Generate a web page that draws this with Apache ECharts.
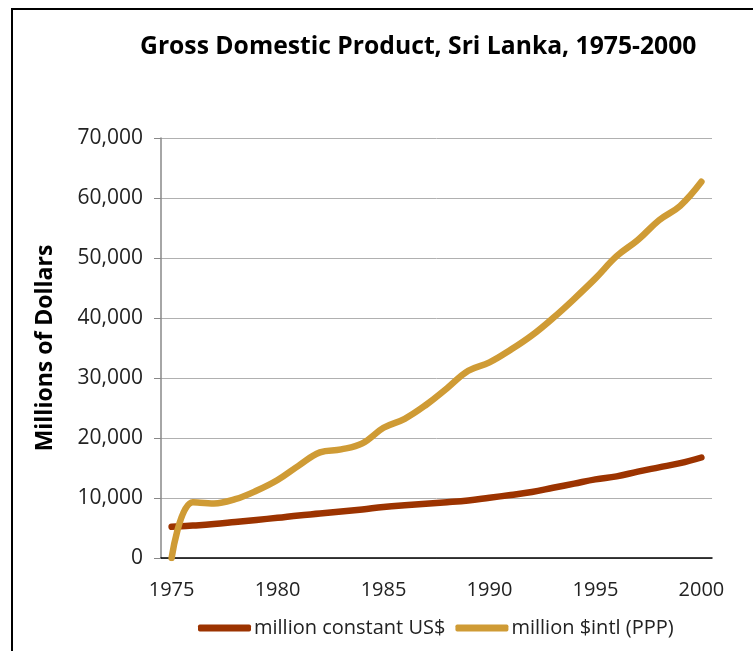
<!DOCTYPE html>
<html>
<head>
<meta charset="utf-8">
<script src="https://cdn.jsdelivr.net/npm/echarts@6/dist/echarts.min.js"></script>
<style>html,body{margin:0;padding:0;background:#fff;}#c{width:753px;height:651px;}</style>
</head>
<body>
<div id="c"></div>
<script>
const years = ['1975','1976','1977','1978','1979','1980','1981','1982','1983','1984','1985','1986','1987','1988','1989','1990','1991','1992','1993','1994','1995','1996','1997','1998','1999','2000'];
const constantUSD = [5200,5400,5650,6000,6350,6700,7100,7400,7750,8100,8500,8800,9050,9300,9600,10050,10500,11000,11700,12400,13100,13600,14400,15100,15800,16750];
const pppIntl = [0,9300,9100,9800,11200,13000,15400,17600,18100,19100,21700,23200,25500,28300,31200,32600,34700,37100,40000,43200,46600,50300,53000,56300,58700,62700];
const yTicks = [0,10000,20000,30000,40000,50000,60000,70000];
const xLabelYears = ['1975','1980','1985','1990','1995','2000'];

const FONT = '"Open Sans", "Noto Sans", sans-serif';
const chart = echarts.init(document.getElementById('c'), null, {renderer:'canvas'});
chart.setOption({
  animation: false,
  backgroundColor: '#fff',
  textStyle: {fontFamily: FONT},
  title: {
    text: 'Gross Domestic Product, Sri Lanka, 1975-2000',
    left: 140, top: 34, padding: 0,
    textStyle: {fontFamily: FONT, fontWeight: 'bold', fontSize: 24.7, color: '#000'}
  },
  graphic: [
    {type:'line', shape:{x1:12,y1:9,x2:12,y2:651}, style:{stroke:'#000', lineWidth:2}},
    {type:'line', shape:{x1:11,y1:9,x2:753,y2:9}, style:{stroke:'#000', lineWidth:2}}
  ],
  legend: {
    left: 198, top: 618, padding: 0,
    itemWidth: 53, itemHeight: 7, itemGap: 10,
    icon: 'roundRect',
    textStyle: {fontFamily: FONT, fontSize: 20, color: '#222', padding:[0,0,0,-2]},
    data: ['million constant US$', 'million $intl (PPP)']
  },
  grid: {left: 161, right: 41, top: 138, bottom: 93, containLabel: false},
  xAxis: {
    type: 'category',
    data: years,
    boundaryGap: true,
    axisLine: {lineStyle: {color: '#000', width: 1.5}},
    axisTick: {show: false},
    axisLabel: {
      interval: function(i, v){ return xLabelYears.indexOf(v) >= 0; },
      fontFamily: FONT, fontSize: 20, color: '#222', margin: 22
    },
    splitLine: {show: false}
  },
  yAxis: {
    type: 'value',
    min: yTicks[0], max: yTicks[yTicks.length-1], interval: 10000,
    name: 'Millions of Dollars',
    nameLocation: 'middle',
    nameGap: 104,
    nameTextStyle: {fontFamily: FONT, fontWeight: 'bold', fontSize: 23, color: '#000'},
    axisLine: {show: true, lineStyle: {color: '#888', width: 1.5}},
    axisTick: {show: true, length: 7, lineStyle: {color: '#888'}},
    axisLabel: {
      fontFamily: FONT, fontSize: 21, color: '#222', margin: 18,
      formatter: function(v){ return v.toLocaleString('en-US'); }
    },
    splitLine: {lineStyle: {color: '#b0b0b0', width: 1}}
  },
  series: [
    {
      name: 'million constant US$', type: 'line', data: constantUSD,
      smooth: 0.4, showSymbol: false, symbol: 'none',
      itemStyle: {color: '#9c3300'},
      lineStyle: {color: '#9c3300', width: 6.5, cap: 'round', join: 'round'}
    },
    {
      name: 'million $intl (PPP)', type: 'line', data: pppIntl,
      smooth: 0.4, showSymbol: false, symbol: 'none',
      itemStyle: {color: '#cf9b35'},
      lineStyle: {color: '#cf9b35', width: 6.5, cap: 'round', join: 'round'}
    }
  ]
});
</script>
</body>
</html>
